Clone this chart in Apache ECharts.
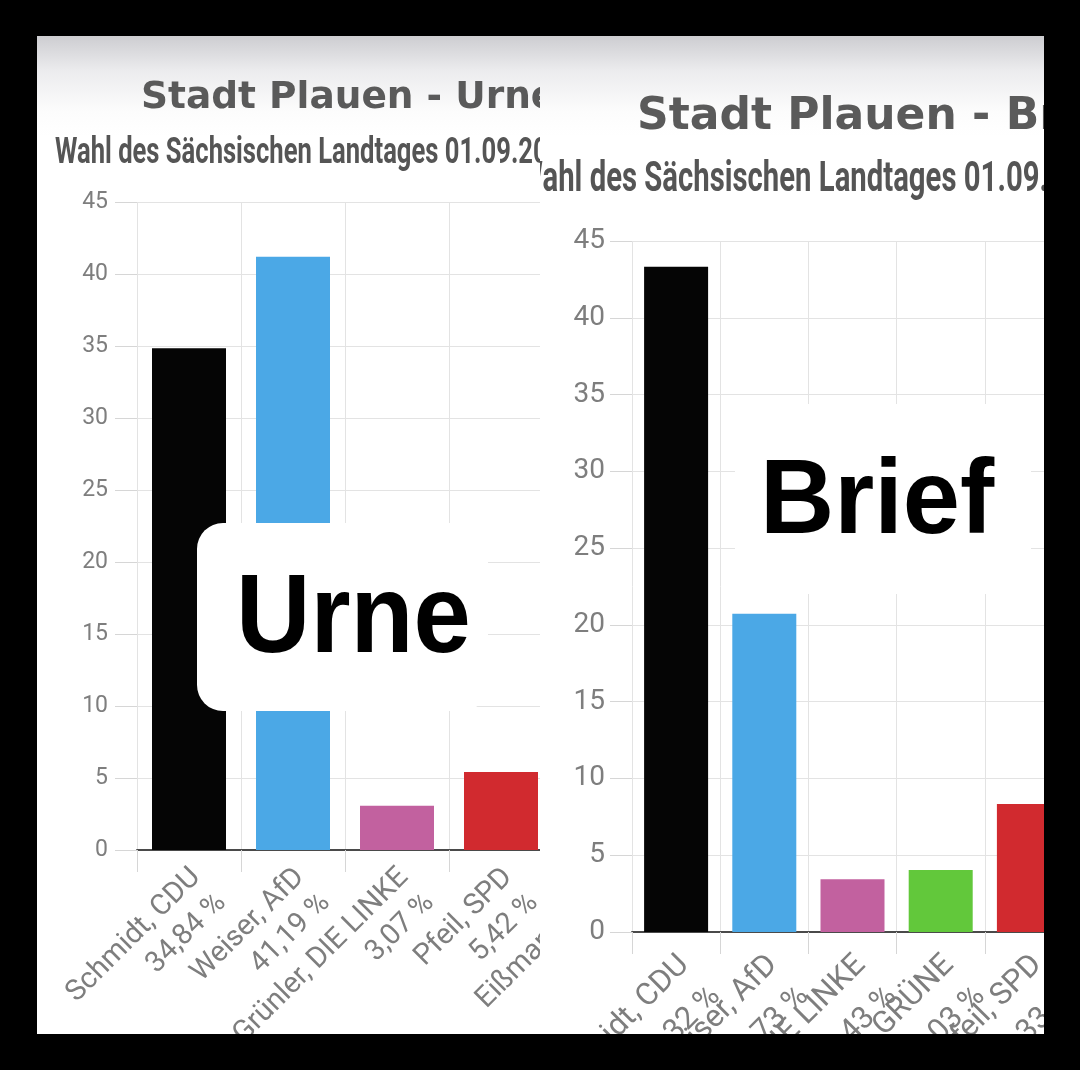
<!DOCTYPE html>
<html>
<head>
<meta charset="utf-8">
<script src="https://cdn.jsdelivr.net/npm/echarts@6/dist/echarts.min.js"></script>
<style>
html,body{margin:0;padding:0;background:#000;width:1080px;height:1070px;overflow:hidden}
#panel{position:absolute;left:37px;top:36px;width:1007px;height:998px;background:linear-gradient(#cdcdd1 0px,#ececee 35px,#fcfcfc 75px,#ffffff 100px)}
.clip{position:absolute;overflow:hidden}
#clipL{left:37px;top:36px;width:503px;height:998px}
#clipR{left:540px;top:36px;width:504px;height:998px}
.inner{position:absolute;width:1080px;height:1070px}
#chartL{left:-37px;top:-36px}
#chartR{left:-540px;top:-36px}
</style>
</head>
<body>
<div id="panel"></div>
<div class="clip" id="clipL"><div class="inner" id="chartL"></div></div>
<div class="clip" id="clipR"><div class="inner" id="chartR"></div></div>
<script>
// ---- data ----
const leftTitle = 'Stadt Plauen - Urnenwahl';
const rightTitle = 'Stadt Plauen - Briefwahl';
const subTitle = 'Wahl des Sächsischen Landtages 01.09.2024';
const leftCategories = ['Schmidt, CDU', 'Weiser, AfD', 'Grünler, DIE LINKE', 'Pfeil, SPD', 'Eißmann'];
const leftValues = [34.84, 41.19, 3.07, 5.42, null];
const leftColors = ['#050505', '#4ba8e6', '#c2619f', '#d12a2f', '#888888'];
const rightCategories = ['Schmidt, CDU', 'Weiser, AfD', 'Grünler, DIE LINKE', 'GRÜNE', 'Pfeil, SPD'];
const rightValues = [43.32, 20.73, 3.43, 4.03, 8.33];
const rightColors = ['#050505', '#4ba8e6', '#c2619f', '#62c83b', '#d12a2f'];
const yTicks = {min: 0, max: 45, interval: 5};

const fmtPct = v => v.toFixed(2).replace('.', ',') + ' %';
const gray = '#7e7e7e';
const gridColor = '#e3e3e3';
const SUB_FONT = 'Roboto';

const cvs = document.createElement('canvas').getContext('2d');
function measure(text, size) {
  cvs.font = 'bold ' + size + 'px ' + SUB_FONT;
  return cvs.measureText(text).width;
}

function buildOption(c) {
  // subtitle: condensed by horizontal scaling to the reference's width
  const fitW = measure(c.sub.fitText, c.sub.size);
  const sx = c.sub.fitWidth / fitW;
  const subX = c.sub.startX - sx * measure(c.sub.skipText, c.sub.size);
  return {
    animation: false,
    textStyle: {fontFamily: 'Roboto'},
    title: [
      {text: c.title, left: c.titleLeft, top: c.titleTop,
       textStyle: {fontFamily: '"DejaVu Sans"', fontWeight: 'bold', fontSize: c.titleSize, color: '#5a5a5a'}}
    ],
    grid: Object.assign({containLabel: false, outerBoundsMode: 'none'}, c.grid),
    xAxis: {
      type: 'category',
      data: c.categories.map((name, i) => c.values[i] == null
        ? {value: name, textStyle: {verticalAlign: 'top', padding: [c.xPad, c.lastPad, 0, 0]}}
        : name),
      axisLine: {lineStyle: {color: '#4a4a4a', width: 2}},
      axisTick: {show: true, length: 22, lineStyle: {color: '#d6d6d6'}},
      splitLine: {show: true, lineStyle: {color: gridColor}},
      axisLabel: {
        interval: 0, rotate: 45, fontSize: c.xFont, lineHeight: c.xLine, color: gray, margin: c.xMargin,
        verticalAlign: 'top', padding: [c.xPad, 0, 0, 0], hideOverlap: false,
        formatter: (val, i) => c.values[i] == null ? val + '\n ' : val + '\n' + fmtPct(c.values[i])
      }
    },
    yAxis: {
      type: 'value', min: yTicks.min, max: yTicks.max, interval: yTicks.interval,
      axisLine: {show: false},
      axisTick: {show: true, length: 22, lineStyle: {color: '#d6d6d6'}},
      splitLine: {lineStyle: {color: gridColor}},
      axisLabel: {fontSize: c.yFont, color: gray, margin: c.yMargin}
    },
    series: [{
      type: 'bar',
      barWidth: c.barWidth,
      data: c.values.map((v, i) => ({value: v, itemStyle: {color: c.colors[i]}}))
    }],
    graphic: [
      {type: 'text', z: 50, x: subX, y: c.sub.y, scaleX: sx,
       style: {text: subTitle, fontFamily: SUB_FONT, fontWeight: 'bold', fontSize: c.sub.size, fill: '#555555', verticalAlign: 'middle'}},
      {type: 'rect', z: 100, shape: c.box, style: {fill: '#ffffff'}},
      {type: 'text', z: 101, x: c.word.x, y: c.word.y, scaleX: c.word.sx,
       style: {text: c.word.text, fontFamily: '"Liberation Sans", Arial', fontWeight: 'bold', fontSize: c.word.size, fill: '#000', verticalAlign: 'middle'}}
    ]
  };
}

const left = echarts.init(document.getElementById('chartL'));
left.setOption(buildOption({
  title: leftTitle, titleLeft: 136, titleTop: 74, titleSize: 37.5,
  sub: {size: 37, y: 154, fitText: 'Wahl des Sächsischen Landtages 01.09.2', fitWidth: 478, skipText: '', startX: 55},
  grid: {left: 137, top: 202, width: 520, height: 648},
  categories: leftCategories, values: leftValues, colors: leftColors,
  xFont: 29, xLine: 36, xMargin: 16, xPad: -8, lastPad: 71, yFont: 23, yMargin: 29, barWidth: 74,
  box: {x: 197, y: 523, width: 291, height: 188, r: 26},
  word: {text: 'Urne', x: 236, y: 621, size: 112, sx: 0.92}
}));

const right = echarts.init(document.getElementById('chartR'));
right.setOption(buildOption({
  title: rightTitle, titleLeft: 632, titleTop: 91, titleSize: 44,
  sub: {size: 42, y: 180, fitText: 'ahl des Sächsischen Landtages 01.09', fitWidth: 497, skipText: 'W', startX: 543},
  grid: {left: 632, top: 241, width: 441, height: 691},
  categories: rightCategories, values: rightValues, colors: rightColors,
  xFont: 31, xLine: 44, xMargin: 20, xPad: -10, lastPad: 0, yFont: 28, yMargin: 27, barWidth: 64,
  box: {x: 735, y: 404, width: 296, height: 190, r: 20},
  word: {text: 'Brief', x: 760, y: 504, size: 106, sx: 0.97}
}));
</script>
</body>
</html>
